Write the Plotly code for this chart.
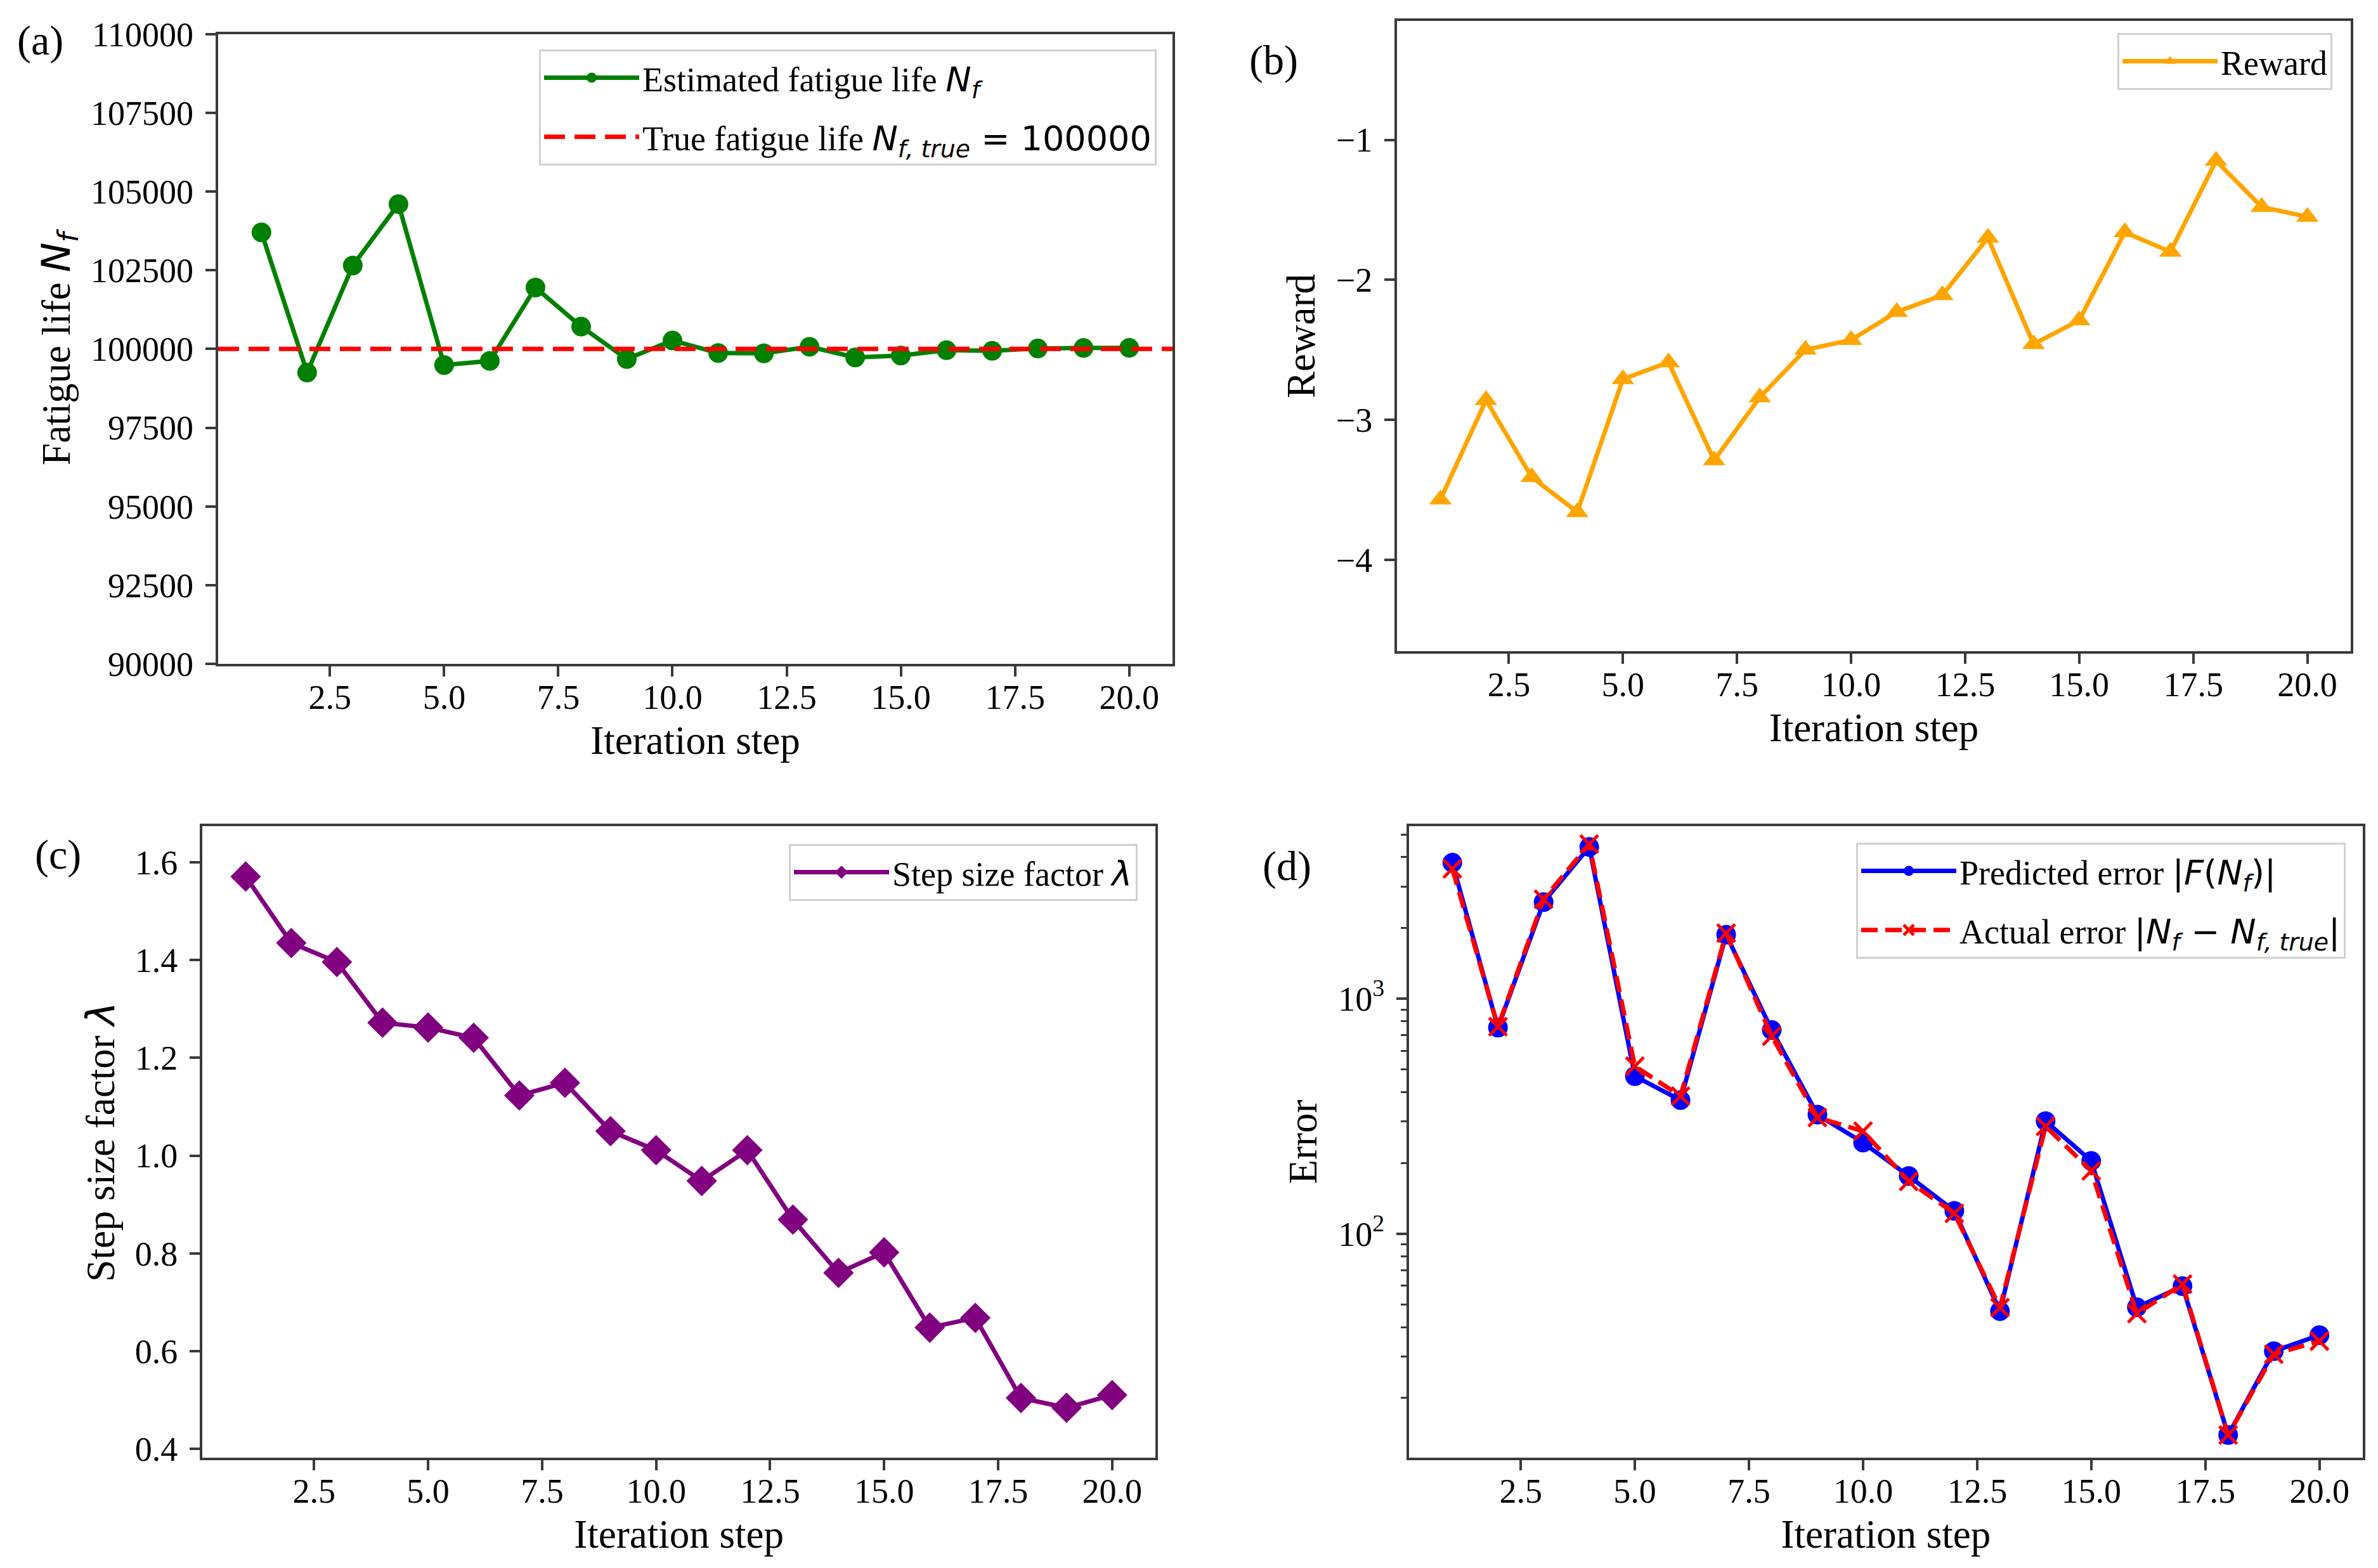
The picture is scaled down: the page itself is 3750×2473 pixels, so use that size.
import plotly.graph_objects as go

# ---------------- data ----------------
steps = list(range(1, 21))

nf_estimated = [103700, 99250, 102650, 104600, 99490, 99620, 101950, 100710, 99680, 100270,
                99870, 99860, 100070, 99730, 99790, 99960, 99940, 100015, 100030, 100035]
nf_true = 100000

reward = [-3.57, -2.86, -3.41, -3.66, -2.71, -2.59, -3.29, -2.84, -2.50, -2.43,
          -2.23, -2.11, -1.70, -2.46, -2.29, -1.66, -1.80, -1.15, -1.48, -1.55]

step_factor = [1.571, 1.435, 1.396, 1.272, 1.262, 1.241, 1.123, 1.149, 1.050, 1.011,
               0.948, 1.011, 0.869, 0.760, 0.802, 0.648, 0.668, 0.504, 0.484, 0.510]

pred_error = [3790, 753, 2576, 4420, 468, 370, 1872, 735, 321, 244,
              176, 125, 46.8, 301, 204, 48.6, 59.8, 13.9, 31.6, 37.0]
actual_error = [3570, 760, 2650, 4550, 516, 385, 1900, 692, 312, 273,
                167, 122, 48.5, 286, 185, 45.7, 61.0, 13.9, 30.7, 34.9]

x_ticks = [2.5, 5.0, 7.5, 10.0, 12.5, 15.0, 17.5, 20.0]
x_range = [0.05, 20.95]
nf_ticks = [90000, 92500, 95000, 97500, 100000, 102500, 105000, 107500, 110000]
reward_ticks = [-4, -3, -2, -1]
lambda_ticks = [0.4, 0.6, 0.8, 1.0, 1.2, 1.4, 1.6]
err_major = [100, 1000]
err_major_text = ["10<sup>2</sup>", "10<sup>3</sup>"]
err_minor = [20, 30, 40, 50, 60, 70, 80, 90, 200, 300, 400, 500, 600, 700, 800, 900,
             2000, 3000, 4000, 5000]

# ---------------- style ----------------
SERIF = "Liberation Serif"
MATH = "DejaVu Sans"
TICK_SIZE = 54
TITLE_SIZE = 63
LEG_SIZE = 54
LW = 7
FRAME = "#3a3a3a"


def m(s):
    return '<span style="font-family:%s">%s</span>' % (MATH, s)


fig = go.Figure()

# (a)
fig.add_trace(go.Scatter(x=steps, y=nf_estimated, mode="lines+markers",
                         line=dict(color="#008000", width=LW),
                         marker=dict(symbol="circle", size=31, color="#008000"),
                         name="Estimated fatigue life " + m("<i>N<sub>f</sub></i>"),
                         legendgroup="a1", xaxis="x", yaxis="y", legend="legend"))
fig.add_trace(go.Scatter(x=x_range, y=[nf_true, nf_true], mode="lines",
                         line=dict(color="#ff0000", width=LW, dash="33px,15px"),
                         name="True fatigue life " + m("<i>N<sub>f, true</sub></i> = 100000"),
                         legendgroup="a2", xaxis="x", yaxis="y", legend="legend"))

# (b)
fig.add_trace(go.Scatter(x=steps, y=reward, mode="lines+markers",
                         line=dict(color="#ffa500", width=LW),
                         marker=dict(symbol="triangle-up", size=31, color="#ffa500"),
                         name="Reward", legendgroup="b1", xaxis="x2", yaxis="y2", legend="legend2"))

# (c)
fig.add_trace(go.Scatter(x=steps, y=step_factor, mode="lines+markers",
                         line=dict(color="#800080", width=LW),
                         marker=dict(symbol="diamond", size=37, color="#800080"),
                         name="Step size factor " + m("<i>λ</i>"),
                         legendgroup="c1", xaxis="x3", yaxis="y3", legend="legend3"))

# (d)
fig.add_trace(go.Scatter(x=steps, y=pred_error, mode="lines+markers",
                         line=dict(color="#0000ff", width=LW),
                         marker=dict(symbol="circle", size=31, color="#0000ff"),
                         name="Predicted error " + m("|<i>F</i>(<i>N<sub>f</sub></i>)|"),
                         legendgroup="d1", xaxis="x4", yaxis="y4", legend="legend4"))
fig.add_trace(go.Scatter(x=steps, y=actual_error, mode="lines+markers",
                         line=dict(color="#ff0000", width=LW, dash="26px,12px"),
                         marker=dict(symbol="x-thin", size=28, color="#ff0000",
                                     line=dict(color="#ff0000", width=5)),
                         name="Actual error " + m("|<i>N<sub>f</sub></i> − <i>N<sub>f, true</sub></i>|"),
                         legendgroup="d2", xaxis="x4", yaxis="y4", legend="legend4"))

axis_common = dict(showline=True, mirror=True, linecolor=FRAME, linewidth=4,
                   ticks="outside", ticklen=16, tickwidth=4, tickcolor=FRAME,
                   showgrid=False, zeroline=False, automargin=False,
                   tickfont=dict(family=SERIF, size=TICK_SIZE, color="black"))


def xaxis(domain, anchor):
    return dict(domain=domain, anchor=anchor, range=x_range, tickvals=x_ticks,
                tickformat=".1f", ticklabelstandoff=-14,
                title=dict(text="Iteration step", font=dict(family=SERIF, size=TITLE_SIZE, color="black"),
                           standoff=17),
                **axis_common)


def ytitle(text, standoff):
    return dict(text=text, font=dict(family=SERIF, size=TITLE_SIZE, color="black"), standoff=standoff)


leg_common = dict(font=dict(family=SERIF, size=LEG_SIZE, color="black"),
                  bgcolor="white", bordercolor="#d0d0d0", borderwidth=3,
                  xanchor="right", yanchor="top", xref="paper", yref="paper",
                  itemwidth=150, tracegroupgap=20, traceorder="grouped")

lab_font = dict(family=SERIF, size=66, color="black")

fig.update_layout(
    width=3750, height=2473, autosize=False,
    margin=dict(l=0, r=0, t=0, b=0, pad=0, autoexpand=False),
    paper_bgcolor="white", plot_bgcolor="white",
    font=dict(family=SERIF, color="black"),
    xaxis=xaxis([0.0917, 0.4931], "y"),
    xaxis2=xaxis([0.5875, 0.9885], "y2"),
    xaxis3=xaxis([0.0851, 0.4859], "y3"),
    xaxis4=xaxis([0.5925, 0.9936], "y4"),
    yaxis=dict(domain=[0.5766, 0.9783], anchor="x", range=[90000, 110000], tickvals=nf_ticks,
               tickformat="d", ticklabelstandoff=8,
               title=ytitle("Fatigue life " + m("<i>N<sub>f</sub></i>"), 13),
               **axis_common),
    yaxis2=dict(domain=[0.5847, 0.9867], anchor="x2", range=[-4.654, -0.15], tickvals=reward_ticks,
                tickformat="d", ticklabelstandoff=8,
                title=ytitle("Reward", 14),
                **axis_common),
    yaxis3=dict(domain=[0.0704, 0.4731], anchor="x3", range=[0.382, 1.674], tickvals=lambda_ticks,
                tickformat=".1f", ticklabelstandoff=8,
                title=ytitle("Step size factor " + m("<i>λ</i>"), 13),
                **axis_common),
    yaxis4=dict(domain=[0.0704, 0.4731], anchor="x4", type="log", range=[1.047, 3.734],
                tickvals=err_major, ticktext=err_major_text, ticklabelstandoff=8,
                minor=dict(tickvals=err_minor, ticks="outside", ticklen=9, tickwidth=3,
                           tickcolor=FRAME, showgrid=False),
                title=ytitle("Error", 14),
                **axis_common),
    legend=dict(x=0.4864, y=0.9685, **leg_common),
    legend2=dict(x=0.9808, y=0.9790, **leg_common),
    legend3=dict(x=0.4784, y=0.4618, **leg_common),
    legend4=dict(x=0.9864, y=0.4626, **leg_common),
    annotations=[
        dict(text="(a)", x=0.0170, y=0.9740, **{"xanchor": "center", "yanchor": "middle"}),
        dict(text="(b)", x=0.5355, y=0.9616, **{"xanchor": "center", "yanchor": "middle"}),
        dict(text="(c)", x=0.0245, y=0.4549, **{"xanchor": "center", "yanchor": "middle"}),
        dict(text="(d)", x=0.5413, y=0.4476, **{"xanchor": "center", "yanchor": "middle"}),
    ],
)
fig.update_annotations(xref="paper", yref="paper", showarrow=False, font=lab_font)

fig.write_html("out.html", config={"displayModeBar": False},
               post_script="document.body.style.margin='0px';document.body.style.overflow='hidden';")
